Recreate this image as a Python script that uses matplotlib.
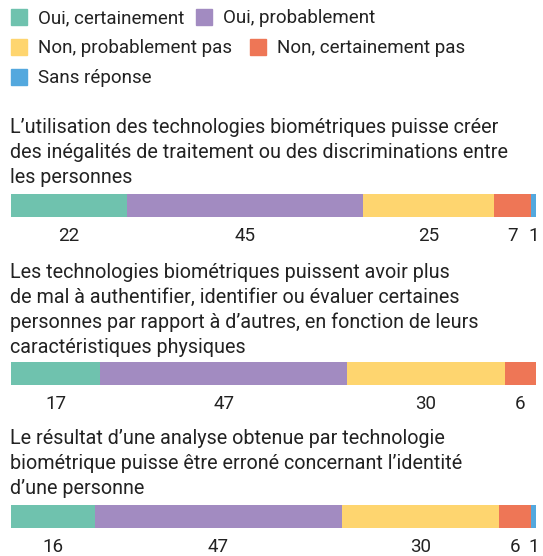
import matplotlib.pyplot as plt
from matplotlib.patches import Rectangle

W, H = 543, 556

categories = ["Oui, certainement", "Oui, probablement", "Non, probablement pas",
              "Non, certainement pas", "Sans réponse"]
colors = ["#6fc2ae", "#a28bc1", "#fed56f", "#ee7656", "#53a8de"]

questions = [
    "L’utilisation des technologies biométriques puisse créer\ndes inégalités de traitement ou des discriminations entre\nles personnes",
    "Les technologies biométriques puissent avoir plus\nde mal à authentifier, identifier ou évaluer certaines\npersonnes par rapport à d’autres, en fonction de leurs\ncaractéristiques physiques",
    "Le résultat d’une analyse obtenue par technologie\nbiométrique puisse être erroné concernant l’identité\nd’une personne",
]
q1 = [22, 45, 25, 7, 1]
q2 = [17, 47, 30, 6, 0]
q3 = [16, 47, 30, 6, 1]
values = [q1, q2, q3]

text_font = ["Roboto", "DejaVu Sans"]
txt_color = "#222222"


def fx(px):
    return px / W


def fy(py):
    return 1 - py / H


fig = plt.figure(figsize=(W / 100, H / 100), dpi=100)

# legend, laid out by hand like a wrapping flow
legend_rows = [[(0, 11), (1, 196)], [(2, 11), (3, 250)], [(4, 11)]]
for r, row in enumerate(legend_rows):
    yc = 17 + r * 30
    for i, x0 in row:
        fig.patches.append(Rectangle((fx(x0), fy(yc + 8)), fx(16), 16 / H,
                                     transform=fig.transFigure, color=colors[i]))
        fig.text(fx(x0 + 27), fy(yc + 1), categories[i], fontsize=13.5, family=text_font,
                 color=txt_color, va="center", ha="left")

# question titles and bars
title_tops = [118, 263, 429]
bar_tops = [194, 362, 505]
for q, vals, t_top, b_top in zip(questions, values, title_tops, bar_tops):
    fig.text(fx(10), fy(t_top), q, fontsize=14.2, family=text_font, color=txt_color,
             va="top", ha="left", linespacing=1.39)
    ax = fig.add_axes([fx(11), fy(b_top + 23), fx(536 - 11), 23 / H])
    left = 0
    for v, c in zip(vals, colors):
        ax.barh(0, v, left=left, color=c, height=1)
        if v > 0:
            ax.annotate(str(v), xy=(left + v / 2, 0), xycoords=("data", "axes fraction"),
                        xytext=(0, -13.5), textcoords="offset points", ha="center", va="center",
                        fontsize=13.5, family=text_font, color=txt_color)
        left += v
    ax.set_xlim(0, 100)
    ax.set_ylim(-0.5, 0.5)
    ax.axis("off")

fig.savefig("out.png", dpi=100)
